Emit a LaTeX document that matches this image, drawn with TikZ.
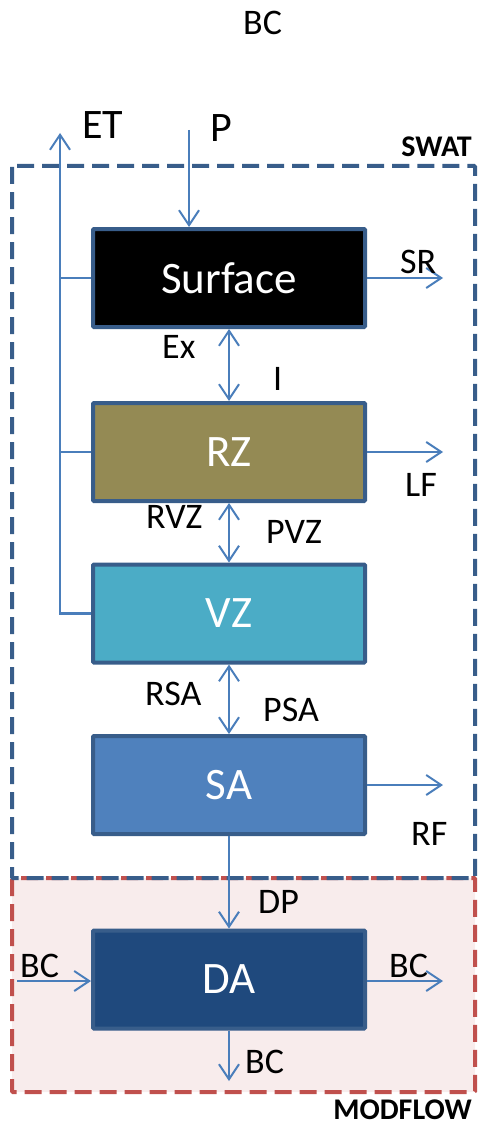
\documentclass[tikz,border=0pt]{standalone}
\usepackage{fontspec}
\setmainfont{Carlito}
\usetikzlibrary{arrows.meta,positioning}
\definecolor{boxline}{HTML}{385D8A}
\definecolor{flow}{HTML}{4A7EBB}
\definecolor{rzfill}{HTML}{948A54}
\definecolor{vzfill}{HTML}{4BACC6}
\definecolor{safill}{HTML}{4F81BD}
\definecolor{dafill}{HTML}{1F497D}
\definecolor{mfline}{HTML}{C0504D}
\definecolor{mffill}{HTML}{F8ECEC}
\tikzset{
	store/.style={draw=boxline, line width=4pt, rounded corners=1pt, inner sep=0pt,
		minimum width=272pt, minimum height=98pt, text=white,
		font=\fontsize{45}{48}\selectfont},
	barb/.tip={Straight Barb[length=15pt,width=20pt,line width=2pt]},
	flux/.style={draw=flow, line width=2.2pt, -barb},
	flux2/.style={draw=flow, line width=2.2pt, barb-barb},
	pipe/.style={draw=flow, line width=2.2pt},
	lbl/.style={anchor=base west, inner sep=0pt, font=\fontsize{36}{38}\selectfont},
	big/.style={anchor=base west, inner sep=0pt, font=\fontsize{42}{46}\selectfont},
	tag/.style={anchor=base east, inner sep=0pt, font=\fontsize{30}{32}\selectfont\bfseries},
	zone/.style={line width=4pt, dash pattern=on 17pt off 8pt, rounded corners=1pt}
}
\begin{document}
\begin{tikzpicture}[x=1pt,y=-1pt]
	\useasboundingbox (0,0) rectangle (477,1126);

	% model domains
	\draw[zone, draw=mfline, fill=mffill] (12,878) rectangle (475,1092);
	\draw[zone, draw=boxline] (12,166) rectangle (475,878);
	\node[tag] (swat) at (472,157) {SWAT};
	\node[tag] (modflow) at (472,1119) {MODFLOW};

	% storages
	\node[store, fill=black] (surf) at (229,278) {Surface};
	\node[store, fill=rzfill] (rz) at (229,452) {RZ};
	\node[store, fill=vzfill] (vz) at (229,613.5) {VZ};
	\node[store, fill=safill] (sa) at (229,785) {SA};
	\node[store, fill=dafill] (da) at (229,979.5) {DA};

	\coordinate (et) at (60,133);
	\coordinate (p) at (189,130);
	\coordinate (sr) at (443,278);
	\coordinate (lf) at (443,452);
	\coordinate (rf) at (443,785);
	\coordinate (bcin) at (17,981);
	\coordinate (bcout) at (443,981);
	\coordinate (bcdown) at (229,1081);

	% fluxes
	\draw[flux] (vz.west) -| (et);
	\draw[pipe] (surf.west) -- (surf.west -| et);
	\draw[pipe] (rz.west) -- (rz.west -| et);
	\draw[flux] (p) -- (p |- surf.north);
	\draw[flux] (surf.east) -- (sr);
	\draw[flux2] (surf.south) -- (rz.north);
	\draw[flux] (rz.east) -- (lf);
	\draw[flux2] (rz.south) -- (vz.north);
	\draw[flux2] (vz.south) -- (sa.north);
	\draw[flux] (sa.east) -- (rf);
	\draw[flux] (sa.south) -- (da.north);
	\draw[flux] (bcin) -- (bcin -| da.west);
	\draw[flux] (da.east |- bcout) -- (bcout);
	\draw[flux] (da.south) -- (bcdown);

	% labels
	\node[lbl] (bctop) at (243,35) {BC};
	\node[big] (etlbl) at (82,139) {ET};
	\node[big] (plbl) at (210,142) {P};
	\node[lbl] (srlbl) at (400,273) {SR};
	\node[lbl] (exlbl) at (162,358) {Ex};
	\node[lbl] (ilbl) at (273,390) {I};
	\node[lbl] (lflbl) at (405,496) {LF};
	\node[lbl] (rvzlbl) at (146,528) {RVZ};
	\node[lbl] (pvzlbl) at (266,543) {PVZ};
	\node[lbl] (rsalbl) at (145,705) {RSA};
	\node[lbl] (psalbl) at (263,721) {PSA};
	\node[lbl] (rflbl) at (411,845) {RF};
	\node[lbl] (dplbl) at (258,913) {DP};
	\node[lbl] (bcinlbl) at (20,977) {BC};
	\node[lbl] (bcoutlbl) at (389,977) {BC};
	\node[lbl] (bcdownlbl) at (245,1073) {BC};
\end{tikzpicture}
\end{document}
